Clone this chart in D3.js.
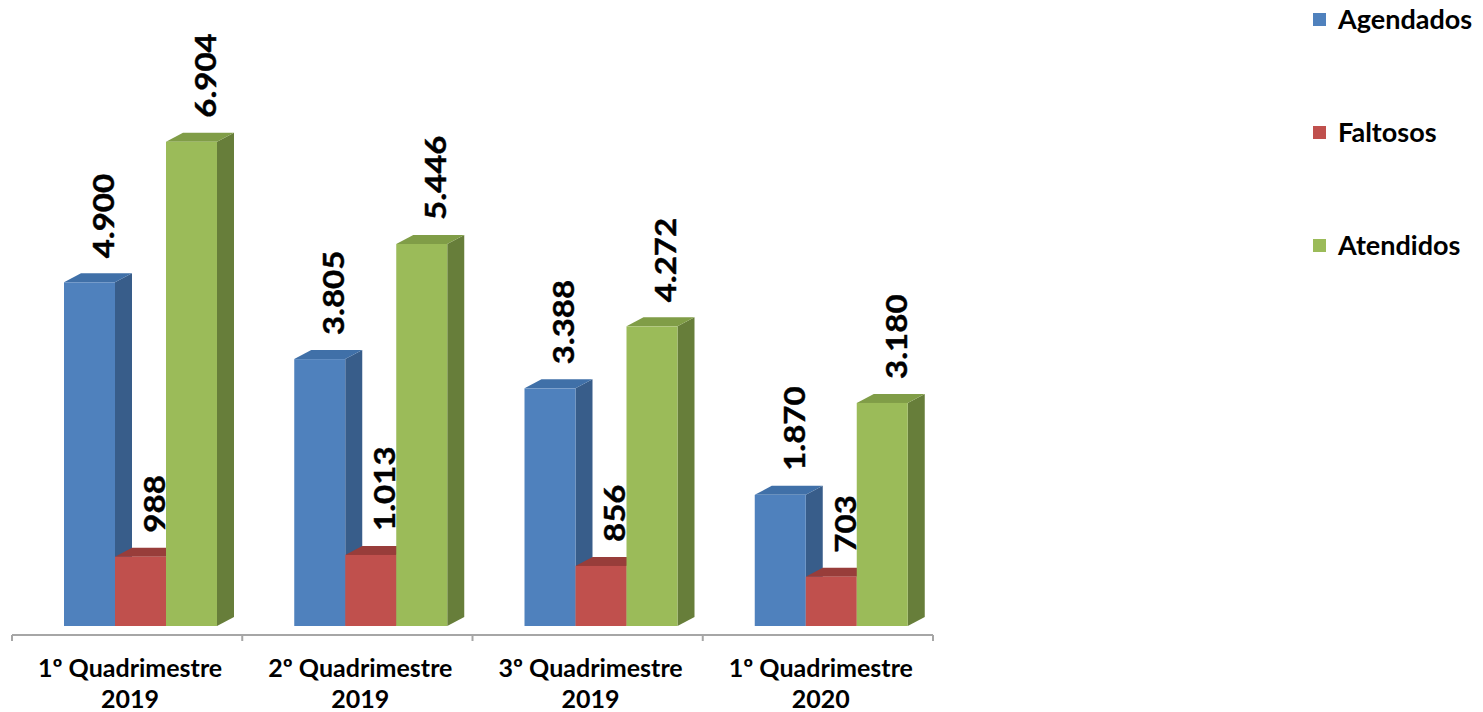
<!DOCTYPE html>
<html>
<head>
<meta charset="utf-8">
<script src="https://cdn.jsdelivr.net/npm/d3@7"></script>
<style>
  html, body { margin: 0; padding: 0; background: #ffffff; }
  svg { display: block; }
  text { font-family: Lato, "Open Sans", sans-serif; font-weight: 700; fill: #000; }
</style>
</head>
<body>
<svg id="chart" width="1483" height="712"></svg>
<script>
// ---- data ----
const categories = ["1º Quadrimestre 2019", "2º Quadrimestre 2019", "3º Quadrimestre 2019", "1º Quadrimestre 2020"];
const seriesNames = ["Agendados", "Faltosos", "Atendidos"];
const agendados = [4900, 3805, 3388, 1870];
const faltosos  = [988, 1013, 856, 703];
const atendidos = [6904, 5446, 4272, 3180];
const seriesValues = [agendados, faltosos, atendidos];

// ---- styles ----
const colors = {
  Agendados: { front: "#4F81BD", top: "#4070A8", side: "#385D8A" },
  Faltosos:  { front: "#C0504D", top: "#983D3A", side: "#8C3836" },
  Atendidos: { front: "#9BBB59", top: "#809D47", side: "#677E3A" }
};

const svg = d3.select("#chart");
const baseY = 626, axisY = 635;
const depthX = 17, depthY = 9;

const x = d3.scaleBand().domain(categories).range([12, 933]);
const xs = d3.scaleBand().domain(seriesNames).range([52, 205]);
const y = d3.scaleLinear().domain([0, 7000]).range([baseY, 135]);

const fmt = d3.formatLocale({ decimal: ",", thousands: ".", grouping: [3], currency: ["", ""] }).format(",");

// ---- axis ----
const axisG = svg.append("g");
axisG.append("line")
  .attr("x1", x.range()[0]).attr("x2", x.range()[1])
  .attr("y1", axisY).attr("y2", axisY)
  .attr("stroke", "#a6a6a6").attr("stroke-width", 2);
const bounds = categories.map(c => x(c)).concat([x.range()[1]]);
axisG.selectAll("line.tick").data(bounds).enter().append("line")
  .attr("class", "tick")
  .attr("x1", d => d).attr("x2", d => d)
  .attr("y1", axisY).attr("y2", axisY + 6)
  .attr("stroke", "#a6a6a6").attr("stroke-width", 2);

const catLab = axisG.selectAll("text.cat").data(categories).enter().append("text")
  .attr("class", "cat")
  .attr("text-anchor", "middle")
  .attr("font-size", 25)
  .attr("x", d => x(d) + x.bandwidth() / 2 + 3);
catLab.append("tspan").attr("x", d => x(d) + x.bandwidth() / 2 + 3).attr("y", 677)
  .text(d => d.slice(0, d.lastIndexOf(" ")));
catLab.append("tspan").attr("x", d => x(d) + x.bandwidth() / 2 + 3).attr("y", 708)
  .text(d => d.slice(d.lastIndexOf(" ") + 1));

// ---- bars ----
const bars = [];
seriesNames.forEach((s, si) => {
  categories.forEach((c, ci) => {
    bars.push({ s, c, v: seriesValues[si][ci], si, ci });
  });
});
bars.sort((a, b) => a.ci - b.ci || a.si - b.si);

const w = xs.bandwidth();
const barG = svg.append("g");
bars.forEach(b => {
  const x0 = x(b.c) + xs(b.s);
  const yt = y(b.v);
  const col = colors[b.s];
  const g = barG.append("g");
  g.append("path")
    .attr("d", `M${x0 + w},${yt} L${x0 + w + depthX},${yt - depthY} L${x0 + w + depthX},${baseY - depthY} L${x0 + w},${baseY} Z`)
    .attr("fill", col.side);
  g.append("path")
    .attr("d", `M${x0},${yt} L${x0 + depthX},${yt - depthY} L${x0 + w + depthX},${yt - depthY} L${x0 + w},${yt} Z`)
    .attr("fill", col.top);
  g.append("rect")
    .attr("x", x0).attr("y", yt)
    .attr("width", w).attr("height", baseY - yt)
    .attr("fill", col.front);
});

// ---- data labels ----
const labG = svg.append("g");
bars.forEach(b => {
  const cx = x(b.c) + xs(b.s) + w / 2 + 14;
  const ty = y(b.v) - depthY - 15;
  labG.append("text")
    .attr("transform", `translate(${cx},${ty}) rotate(-90) scale(1.14,1)`)
    .attr("text-anchor", "start")
    .attr("dy", "0.36em")
    .attr("font-size", 29)
    .attr("stroke", "#000").attr("stroke-width", 0.4)
    .text(fmt(b.v));
});

// ---- legend ----
const legendY = [20, 133, 246];
const leg = svg.append("g");
seriesNames.forEach((s, i) => {
  leg.append("rect")
    .attr("x", 1313).attr("y", legendY[i] - 7)
    .attr("width", 13).attr("height", 13)
    .attr("fill", colors[s].front);
  leg.append("text")
    .attr("x", 1338).attr("y", legendY[i])
    .attr("dy", "0.35em")
    .attr("font-size", 27)
    .text(s);
});
</script>
</body>
</html>
